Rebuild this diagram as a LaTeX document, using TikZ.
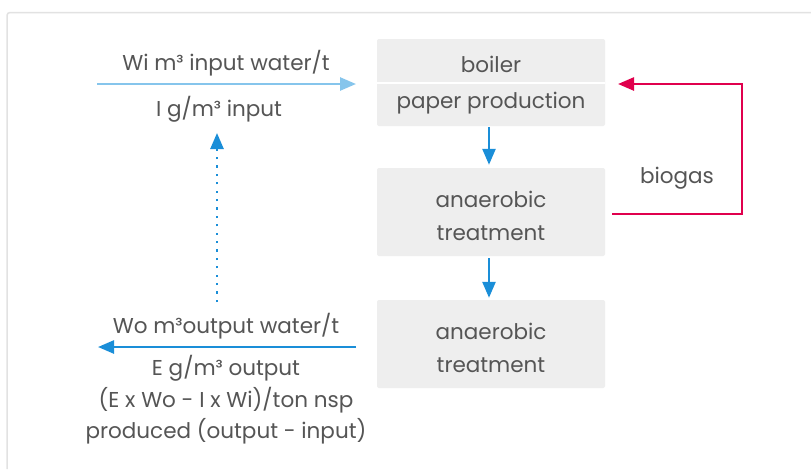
\documentclass[tikz,border=0pt]{standalone}
\usepackage{fontspec}
\setmainfont{Poppins}
\usetikzlibrary{arrows.meta}
\definecolor{txt}{HTML}{555555}
\definecolor{boxfill}{HTML}{EEEEEE}
\definecolor{blue1}{HTML}{1A8ED8}
\definecolor{lblue}{HTML}{86C5EC}
\definecolor{red1}{HTML}{E0004D}
\definecolor{frame}{HTML}{E2E2E2}
\tikzset{
  stepbox/.style={fill=boxfill, rounded corners=2pt, minimum width=228pt, inner sep=0pt},
  lbl/.style={text=txt, align=center, font=\fontsize{21.5}{32.5}\selectfont, inner sep=0pt},
  tip/.style={-{Triangle[length=16pt,width=13pt]}},
  flow/.style={blue1, line width=2.5pt, tip},
}
\begin{document}
\begin{tikzpicture}[x=1pt,y=-1pt]
\useasboundingbox (0,0) rectangle (811,469);
\fill[white] (0,0) rectangle (811,469);
\draw[frame, line width=1.5pt, rounded corners=3pt] (7,469) -- (7,12.5) -- (811,12.5);
% boxes
\node[stepbox, minimum height=87pt] (b1) at (491,82.5) {};
\draw[white, line width=2pt] (b1.west |- 0,83) -- (b1.east |- 0,83);
\node[lbl] (boiler) at (491,64) {boiler};
\node[lbl] (paper) at (491,103) {paper production};
\node[stepbox, minimum height=88pt] (b2) at (491,212) {};
\node[lbl] (t2) at (491,216) {anaerobic\\treatment};
\node[stepbox, minimum height=88pt] (b3) at (491,344) {};
\node[lbl] (t3) at (491,348) {anaerobic\\treatment};
% flows
\draw[flow] (b1.south -| 489,0) ++(0,1) -- ([yshift=3pt]b2.north -| 489,0);
\draw[flow] (b2.south -| 489,0) ++(0,2) -- ([yshift=2pt]b3.north -| 489,0);
% biogas
\coordinate (r0) at (612,214);
\coordinate (r1) at (742,214);
\coordinate (r2) at (742,84);
\coordinate (r3) at (618,84);
\draw[red1, line width=2.5pt, tip] (r0) -- (r1) -- (r2) -- (r3);
\node[lbl] (biogas) at (677,178) {biogas};
% input
\coordinate (inL) at (97,84);
\coordinate (inR) at (356,84);
\draw[lblue, line width=2.5pt, tip] (inL) -- (inR);
\node[lbl] (wi) at (226,63) {Wi m³ input water/t};
\node[lbl] (ii) at (219,109) {I g/m³ input};
% dotted
\coordinate (dotB) at (217,302);
\coordinate (dotT) at (217,133);
\draw[blue1, line width=2.5pt, dash pattern=on 2.2pt off 6.2pt, tip] (dotB) -- (dotT);
% output
\coordinate (outR) at (356,347);
\coordinate (outL) at (98,347);
\draw[blue1, line width=2.5pt, tip] (outR) -- (outL);
\node[lbl] (wo) at (226,326) {Wo m³output water/t};
\node[lbl, font=\fontsize{21.5}{31.5}\selectfont] (eo) at (226,400) {E g/m³ output\\(E x Wo - I x Wi)/ton nsp\\produced (output - input)};
\end{tikzpicture}
\end{document}
